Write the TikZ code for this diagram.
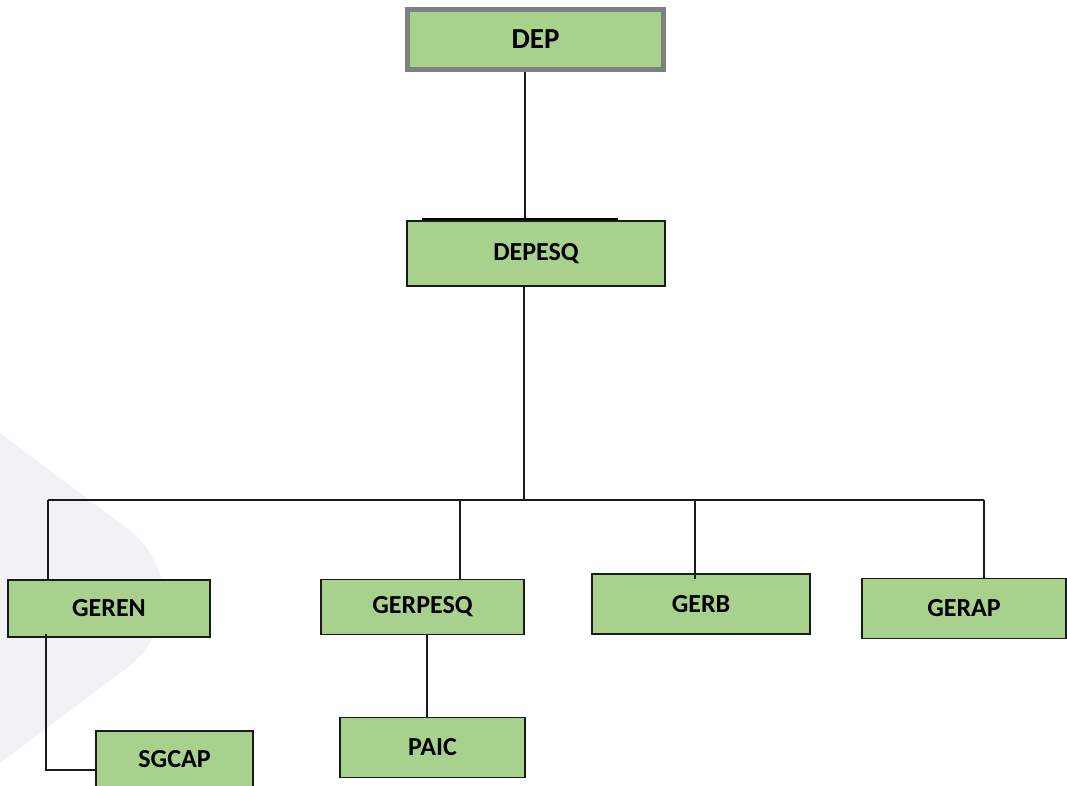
\documentclass[tikz,border=0pt]{standalone}
\usepackage{fontspec}
\setmainfont{Carlito}
\definecolor{boxgreen}{HTML}{A9D18E}
\definecolor{bgshape}{HTML}{F1F2F6}
\definecolor{topgray}{HTML}{808080}
\definecolor{linedark}{HTML}{1A1A1A}
\tikzset{
  orgbox/.style={draw=linedark, line width=1.4pt, fill=boxgreen, inner sep=0pt,
    font=\bfseries\fontsize{26}{31}\selectfont, text=black},
  topbox/.style={orgbox, draw=topgray, line width=5pt, font=\bfseries\fontsize{29}{34}\selectfont},
  conn/.style={draw=linedark, line width=1.4pt}
}
\begin{document}
\begin{tikzpicture}[x=1pt,y=-1pt]
\useasboundingbox (0,0) rectangle (1067,785);
\fill[white] (0,0) rectangle (1067,785);
% background decoration
\fill[bgshape] (0,433) -- (120,523) .. controls (178,562) and (178,634) .. (120,673) -- (0,763) -- cycle;

% nodes
\node[topbox, minimum width=256, minimum height=60] (DEP) at (535.5,39.5) {DEP};
\node[orgbox, minimum width=258, minimum height=65] (DEPESQ) at (536,253.5) {DEPESQ};
\node[orgbox, minimum width=202, minimum height=57] (GEREN) at (109,608.5) {GEREN};
\node[orgbox, minimum width=203, minimum height=55] (GERPESQ) at (422.5,607) {GERPESQ};
\node[orgbox, minimum width=218, minimum height=60] (GERB) at (701,604) {GERB};
\node[orgbox, minimum width=204, minimum height=60] (GERAP) at (964,608.5) {GERAP};
\node[orgbox, minimum width=157, minimum height=56] (SGCAP) at (174.5,759) {SGCAP};
\node[orgbox, minimum width=185, minimum height=60] (PAIC) at (432.5,747.5) {PAIC};

% junction coordinates
\coordinate (topx) at (525,0);
\coordinate (bus) at (524,500);
\coordinate (busL) at (48,500);
\coordinate (busR) at (984,500);
\coordinate (dPesq) at (460,500);
\coordinate (dGerb) at (695,500);
\coordinate (sgx) at (46,0);
\coordinate (paicx) at (427,0);

% connectors
\draw[conn] (DEP.south -| topx) -- ([yshift=2]DEPESQ.north -| topx);
\draw[line width=2.2pt, draw=black] ([xshift=16,yshift=1.5]DEPESQ.north west) -- ([xshift=-48,yshift=1.5]DEPESQ.north east);
\draw[conn] (DEPESQ.south -| bus) -- (bus);
\draw[conn] (busL) -- (busR);
\draw[conn] (busL) -- (GEREN.north -| busL);
\draw[conn] (dPesq) -- (GERPESQ.north -| dPesq);
\draw[conn] (dGerb) -- ([yshift=-6]GERB.north -| dGerb);
\draw[conn] (busR) -- (GERAP.north -| busR);
\draw[conn] ([yshift=4]GEREN.south -| sgx) |- (SGCAP.west |- 0,770);
\draw[conn] (GERPESQ.south -| paicx) -- (PAIC.north -| paicx);
\end{tikzpicture}
\end{document}
